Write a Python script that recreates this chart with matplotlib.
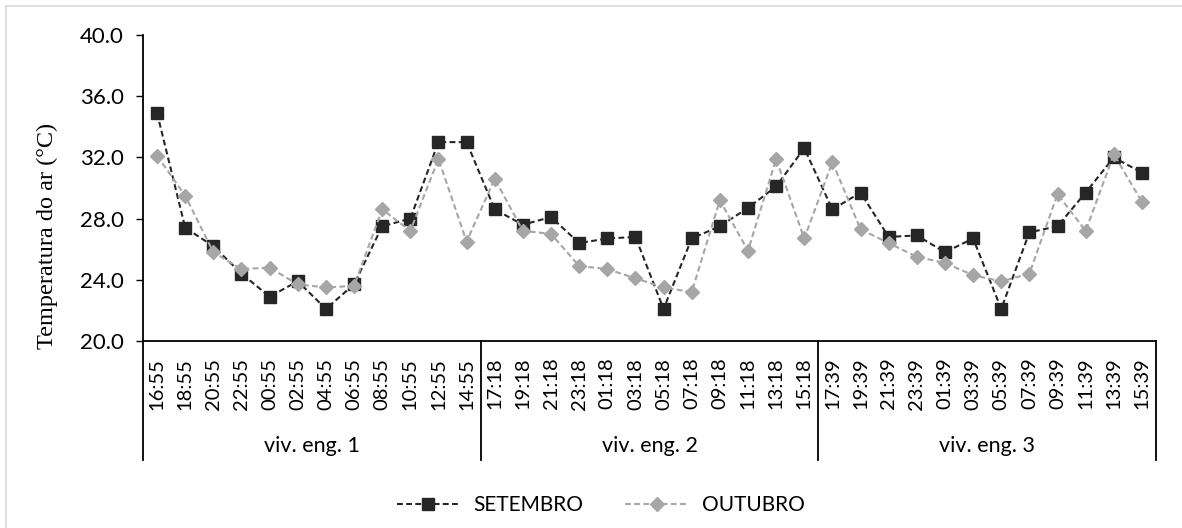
import matplotlib
matplotlib.use('Agg')
import matplotlib.pyplot as plt
from matplotlib.lines import Line2D
from matplotlib.transforms import blended_transform_factory

# horarios de medicao por viveiro
horas_1 = ['16:55', '18:55', '20:55', '22:55', '00:55', '02:55',
           '04:55', '06:55', '08:55', '10:55', '12:55', '14:55']
horas_2 = ['17:18', '19:18', '21:18', '23:18', '01:18', '03:18',
           '05:18', '07:18', '09:18', '11:18', '13:18', '15:18']
horas_3 = ['17:39', '19:39', '21:39', '23:39', '01:39', '03:39',
           '05:39', '07:39', '09:39', '11:39', '13:39', '15:39']
grupos = ['viv. eng. 1', 'viv. eng. 2', 'viv. eng. 3']

setembro = [34.9, 27.4, 26.2, 24.4, 22.9, 23.9, 22.1, 23.7, 27.5, 28.0, 33.0, 33.0,
            28.6, 27.6, 28.1, 26.4, 26.7, 26.8, 22.1, 26.7, 27.5, 28.7, 30.1, 32.6,
            28.6, 29.7, 26.8, 26.9, 25.8, 26.7, 22.1, 27.1, 27.5, 29.7, 32.0, 31.0]
outubro = [32.1, 29.5, 25.8, 24.7, 24.8, 23.7, 23.5, 23.6, 28.6, 27.2, 31.9, 26.5,
           30.6, 27.2, 27.0, 24.9, 24.7, 24.1, 23.5, 23.2, 29.2, 25.9, 31.9, 26.7,
           31.7, 27.3, 26.4, 25.5, 25.1, 24.3, 23.9, 24.4, 29.6, 27.2, 32.2, 29.1]

horas = horas_1 + horas_2 + horas_3
x = list(range(len(horas)))

fonte = 'Lato'
W, H = 1182, 528
fig = plt.figure(figsize=(W / 100, H / 100), dpi=100)
ax = fig.add_axes([143 / W, 1 - 341 / H, (1156 - 143) / W, (341 - 35) / H])

ax.plot(x, setembro, color='#262626', lw=1.5, dashes=(2.8, 1.6),
        marker='s', ms=8, mec='#262626', mfc='#262626', label='SETEMBRO')
ax.plot(x, outubro, color='#A6A6A6', lw=1.5, dashes=(2.8, 1.6),
        marker='D', ms=7.5, mec='#A6A6A6', mfc='#A6A6A6', label='OUTUBRO')

ax.set_xlim(-0.5, len(horas) - 0.5)
ax.set_ylim(20, 40)
ax.set_yticks([20, 24, 28, 32, 36, 40])
ax.set_yticklabels([f'{v:.1f}' for v in [20, 24, 28, 32, 36, 40]],
                   fontfamily=fonte, fontsize=16)
ax.set_xticks(x)
ax.set_xticklabels(horas, rotation=90, fontfamily=fonte, fontsize=14.5)
ax.tick_params(axis='x', length=0, pad=12)
ax.tick_params(axis='y', length=5, width=1, pad=9, direction='out')

for s in ['top', 'right']:
    ax.spines[s].set_visible(False)
ax.spines['left'].set_linewidth(1.3)
ax.spines['bottom'].set_linewidth(1.3)

# caixas dos grupos abaixo do eixo
trans = blended_transform_factory(ax.transData, ax.transAxes)
y_fim = (341 - 460) / (341 - 35)
for xs in [-0.5, 11.5, 23.5, 35.5]:
    ax.add_line(Line2D([xs, xs], [0, y_fim], transform=trans, color='black',
                       lw=1.3, clip_on=False))
y_grp = (341 - 446) / (341 - 35)
for i, g in enumerate(grupos):
    ax.text(i * 12 + 5.5, y_grp, g, transform=trans, ha='center', va='center',
            fontfamily=fonte, fontsize=15.5)

fig.text(47 / W, 1 - 236 / H, 'Temperatura do ar (°C)', rotation=90,
         ha='center', va='center', fontfamily='Liberation Serif', fontsize=17.5)

fig.legend(loc='center', bbox_to_anchor=(601 / W, 1 - 505 / H), ncol=2,
           frameon=False, prop={'family': fonte, 'size': 15},
           handlelength=3.0, handletextpad=0.7, columnspacing=2.0)

# moldura cinza do grafico
fig.add_artist(Line2D([6 / W, 6 / W], [0, 1 - 6 / H], color='#D9D9D9', lw=1.2))
fig.add_artist(Line2D([6 / W, 1], [1 - 6 / H, 1 - 6 / H], color='#D9D9D9', lw=1.2))

fig.savefig('out.png', dpi=100)
